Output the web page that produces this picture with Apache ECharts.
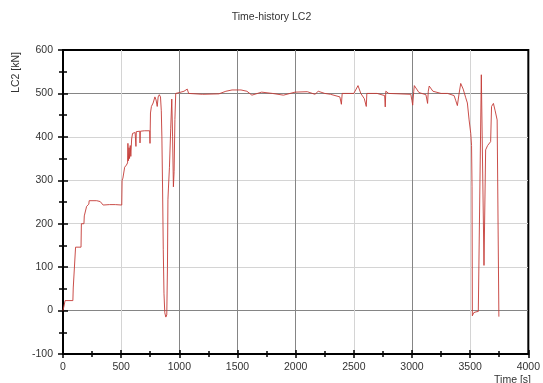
<!DOCTYPE html>
<html>
<head>
<meta charset="utf-8">
<script src="https://cdn.jsdelivr.net/npm/echarts@6/dist/echarts.min.js"></script>
<style>
html,body{margin:0;padding:0;background:#fff;}
#chart{width:543px;height:383px;}
</style>
</head>
<body>
<div id="chart"></div>
<script>
const chartTitle = 'Time-history LC2';
const yAxisTitle = 'LC2 [kN]';
const xAxisTitle = 'Time [s]';

// time [s]
const times = [
  0, 15, 18, 85, 88, 105, 108, 155, 158, 180, 183, 200, 203, 222, 225, 290, 320, 330, 345, 400,
  450, 505, 508, 515, 530, 545, 555, 558, 562, 568, 572, 578, 583, 590, 598, 620, 625, 627, 630, 660,
  662, 665, 700, 745, 748, 752, 760, 775, 790, 800, 810, 818, 828, 838, 845, 850, 856, 862, 868, 875,
  884, 892, 898, 902, 906, 915, 926, 935, 942, 949, 955, 962, 969, 1000, 1040, 1068, 1080, 1097, 1200, 1340,
  1400, 1453, 1530, 1581, 1624, 1707, 1800, 1895, 1995, 2100, 2166, 2194, 2250, 2300, 2380, 2393, 2400, 2417, 2500, 2536,
  2560, 2590, 2607, 2612, 2700, 2765, 2770, 2775, 2800, 2990, 3000, 3006, 3015, 3020, 3060, 3120, 3134, 3140, 3148, 3180,
  3250, 3306, 3362, 3377, 3390, 3405, 3419, 3440, 3462, 3476, 3491, 3505, 3512, 3516, 3519, 3530, 3550, 3570, 3584, 3596,
  3619, 3624, 3633, 3650, 3676, 3684, 3700, 3715, 3732, 3747
];
// LC2 load [kN]
const loads = [
  0, 0, 23, 23, 52, 52, 146, 146, 200, 200, 218, 222, 240, 245, 253, 253, 251, 248, 243, 244,
  244, 243, 300, 305, 330, 335, 340, 385, 345, 375, 350, 380, 355, 395, 408, 410, 412, 378, 412, 413,
  386, 413, 414, 414, 385, 455, 470, 478, 492, 485, 470, 492, 497, 492, 460, 400, 280, 140, 40, -5,
  -15, -10, 100, 255, 280, 330, 420, 487, 400, 285, 320, 440, 500, 502, 505, 510, 500, 497, 498, 499,
  505, 508, 508, 505, 496, 503, 500, 496, 503, 504, 498, 505, 500, 498, 492, 475, 500, 502, 500, 518,
  500, 488, 470, 500, 500, 495, 469, 505, 500, 498, 483, 473, 505, 518, 502, 497, 477, 505, 517, 505,
  500, 500, 495, 483, 472, 500, 523, 510, 490, 478, 439, 408, 380, 285, -12, -5, -3, -2, 2, 543,
  104, 108, 370, 380, 389, 470, 477, 460, 439, -14
];
const xTicks = { min: 0, max: 4000, step: 500 };
const yTicks = { min: -100, max: 600, step: 100 };

const seriesData = times.map((t, i) => [t, loads[i]]);

const font = 'Liberation Sans, Arial, sans-serif';
const light = '#d4d4d4';
const dark = '#858585';
const plain = v => String(v);

const chart = echarts.init(document.getElementById('chart'), null, { renderer: 'canvas' });
const baseX = {
  type: 'value', min: xTicks.min, max: xTicks.max, interval: xTicks.step, position: 'bottom'
};
const baseY = {
  type: 'value', min: yTicks.min, max: yTicks.max, interval: yTicks.step, position: 'left'
};
chart.setOption({
  animation: false,
  backgroundColor: '#fff',
  title: {
    text: chartTitle, left: 'center', top: 7,
    textStyle: { fontFamily: font, fontSize: 10.5, fontWeight: 'normal', color: '#333' }
  },
  grid: {
    left: 63, right: 11, top: 50, bottom: 29,
    show: true, borderColor: '#000', borderWidth: 2, backgroundColor: 'transparent'
  },
  xAxis: [
    Object.assign({}, baseX, {
      axisLine: { show: true, onZero: false, lineStyle: { color: '#000', width: 2 } },
      axisTick: { show: true, inside: false, length: 4, lineStyle: { color: '#000', width: 1.5 } },
      minorTick: { show: true, splitNumber: 2, length: 3, lineStyle: { color: '#000', width: 1.5 } },
      axisLabel: { margin: 8, fontFamily: font, fontSize: 10.5, color: '#333', formatter: plain },
      splitLine: { show: true, lineStyle: { width: 1, color: ['#000', light, dark, dark, dark, light, dark, light, '#000'] } }
    }),
    Object.assign({}, baseX, {
      axisLine: { show: false, onZero: false },
      axisTick: { show: true, inside: true, length: 4, lineStyle: { color: '#000', width: 1.5 } },
      minorTick: { show: true, splitNumber: 2, length: 3, lineStyle: { color: '#000', width: 1.5 } },
      axisLabel: { show: false },
      splitLine: { show: false }
    })
  ],
  yAxis: [
    Object.assign({}, baseY, {
      axisLine: { show: true, onZero: false, lineStyle: { color: '#000', width: 2 } },
      axisTick: { show: true, inside: false, length: 5, lineStyle: { color: '#000', width: 1.5 } },
      minorTick: { show: true, splitNumber: 2, length: 4, lineStyle: { color: '#000', width: 1.5 } },
      axisLabel: { margin: 10, fontFamily: font, fontSize: 10.5, color: '#333', formatter: plain },
      splitLine: { show: true, lineStyle: { width: 1, color: ['#000', dark, light, light, light, light, dark, '#000'] } }
    }),
    Object.assign({}, baseY, {
      axisLine: { show: false, onZero: false },
      axisTick: { show: true, inside: true, length: 5, lineStyle: { color: '#000', width: 1.5 } },
      minorTick: { show: true, splitNumber: 2, length: 4, lineStyle: { color: '#000', width: 1.5 } },
      axisLabel: { show: false },
      splitLine: { show: false }
    })
  ],
  graphic: [
    {
      type: 'text', left: 11, top: 52, rotation: Math.PI / 2,
      style: { text: yAxisTitle, fontFamily: font, fontSize: 10.5, fill: '#333' }
    },
    {
      type: 'text', right: 12, top: 375,
      style: { text: xAxisTitle, fontFamily: font, fontSize: 10.5, fill: '#333' }
    }
  ],
  series: [{
    type: 'line',
    xAxisIndex: 0, yAxisIndex: 0,
    data: seriesData,
    showSymbol: false,
    symbol: 'none',
    lineStyle: { color: '#c43a36', width: 0.9 },
    clip: true
  }]
});
</script>
</body>
</html>
